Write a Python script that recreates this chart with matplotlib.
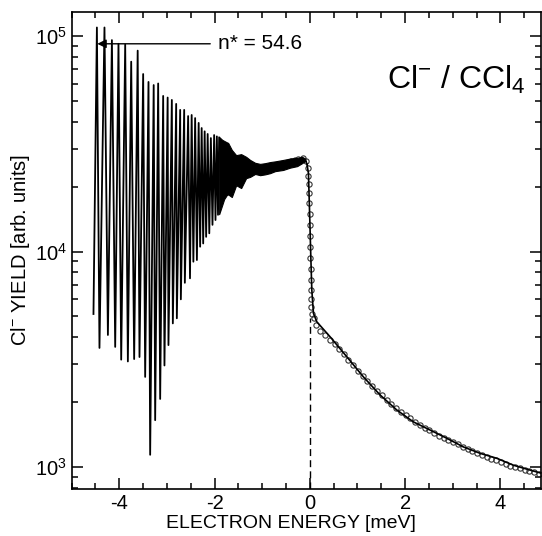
import matplotlib
matplotlib.use("Agg")
import matplotlib.pyplot as plt
from matplotlib.ticker import MultipleLocator, LogLocator, NullFormatter, FuncFormatter

plt.rcParams["font.family"] = ["Liberation Sans", "DejaVu Sans"]
plt.rcParams["mathtext.fontset"] = "custom"
plt.rcParams["mathtext.rm"] = "Liberation Sans"
plt.rcParams["mathtext.it"] = "Liberation Sans:italic"
plt.rcParams["mathtext.bf"] = "Liberation Sans:bold"

# ---------------------------------------------------------------------------
# data (energy in meV, yield in arb. units)
# ---------------------------------------------------------------------------
# resolved Rydberg spikes below threshold
peak_e = [-4.469, -4.310, -4.154, -4.016, -3.875, -3.749, -3.613, -3.498,
          -3.386, -3.277, -3.183, -3.078, -2.984, -2.896, -2.805, -2.721,
          -2.637, -2.554, -2.480, -2.407, -2.333, -2.270, -2.207, -2.144,
          -2.077, -2.008, -1.951, -1.903]
peak_yield = [1.095e5, 1.095e5, 9.57e4, 9.2e4, 9.13e4, 7.6e4, 8.55e4, 6.66e4,
              6.12e4, 5.92e4, 6.02e4, 5.27e4, 5.18e4, 5.05e4, 4.84e4, 4.54e4,
              4.54e4, 4.25e4, 4.30e4, 4.16e4, 3.95e4, 3.74e4, 3.61e4, 3.51e4,
              3.36e4, 3.47e4, 3.42e4, 3.38e4]
trough_e = [-4.541, -4.415, -4.238, -4.085, -3.959, -3.819, -3.687, -3.575,
            -3.456, -3.351, -3.246, -3.141, -3.051, -2.967, -2.875, -2.791,
            -2.707, -2.623, -2.515, -2.444, -2.370, -2.302, -2.238, -2.176,
            -2.110, -2.043, -1.980, -1.927]
trough_yield = [5130, 3570, 4100, 3610, 3150, 3090, 3170, 3240,
                2620, 1140, 1650, 2070, 2960, 3680, 4640, 4900,
                6000, 7160, 7510, 8970, 9130, 10530, 10900, 11700,
                12150, 13300, 14000, 14800]

# unresolved high-n band (upper / lower envelope)
band_e = [-1.903, -1.840, -1.798, -1.741, -1.714, -1.637, -1.546, -1.441,
          -1.337, -1.253, -1.148, -1.043, -0.938, -0.833, -0.728, -0.560,
          -0.413, -0.266, -0.162, -0.099, -0.057]
band_upper = [3.40e4, 3.30e4, 3.26e4, 3.21e4, 3.19e4, 2.96e4, 2.80e4, 2.83e4,
              2.75e4, 2.66e4, 2.58e4, 2.55e4, 2.57e4, 2.60e4, 2.62e4, 2.66e4,
              2.70e4, 2.72e4, 2.75e4, 2.70e4, 2.52e4]
band_lower = [1.49e4, 1.64e4, 1.75e4, 1.83e4, 1.84e4, 1.79e4, 2.03e4, 1.97e4,
              2.19e4, 2.22e4, 2.29e4, 2.26e4, 2.28e4, 2.31e4, 2.36e4, 2.39e4,
              2.45e4, 2.49e4, 2.57e4, 2.63e4, 2.52e4]

# threshold drop and tail above threshold
tail_e = [-0.057, -0.029, -0.008, 0.021, 0.042, 0.076, 0.147, 0.426, 0.776,
          1.125, 1.475, 1.825, 2.174, 2.524, 2.875, 3.223, 3.574, 3.924,
          4.272, 4.622, 4.868]
tail_yield = [2.52e4, 2.31e4, 1.61e4, 9.46e3, 6.63e3, 5.17e3, 4.72e3, 4.02e3,
              3.25e3, 2.62e3, 2.16e3, 1.84e3, 1.62e3, 1.485e3, 1.36e3, 1.24e3,
              1.158e3, 1.098e3, 1.02e3, 968, 935]

# open circles (calculated yield)
circ_e = [-0.40, -0.32, -0.24, -0.141, -0.078, -0.046, -0.029, -0.021, -0.015,
          -0.010, -0.006, -0.002, 0.002, 0.006, 0.010, 0.015, 0.019, 0.023,
          0.027, 0.034, 0.042, 0.08, 0.13, 0.22, 0.32, 0.42, 0.52, 0.62, 0.71,
          0.81, 0.91, 1.01, 1.11, 1.21, 1.31, 1.41, 1.51, 1.61, 1.71, 1.81,
          1.91, 2.01, 2.11, 2.21, 2.31, 2.41, 2.51, 2.61, 2.71, 2.81, 2.91,
          3.01, 3.11, 3.21, 3.31, 3.41, 3.51, 3.61, 3.71, 3.81, 3.91, 4.01,
          4.11, 4.21, 4.31, 4.41, 4.51, 4.61, 4.71, 4.81]
circ_yield = [2.62e4, 2.66e4, 2.70e4, 2.72e4, 2.64e4, 2.44e4, 2.24e4, 2.06e4,
              1.87e4, 1.68e4, 1.49e4, 1.33e4, 1.18e4, 1.05e4, 9.33e3, 8.29e3,
              7.37e3, 6.63e3, 6.02e3, 5.53e3, 5.13e3, 4900, 4550, 4300, 4100,
              3900, 3720, 3540, 3330, 3130, 2960, 2800, 2640, 2500, 2380, 2260,
              2150, 2050, 1960, 1880, 1810, 1740, 1680, 1620, 1570, 1520, 1480,
              1440, 1400, 1370, 1340, 1310, 1275, 1245, 1215, 1190, 1165, 1140,
              1115, 1095, 1075, 1055, 1035, 1015, 1000, 985, 970, 955, 945, 930]

threshold_e = 0.0
threshold_top = 4900
nstar_e = -4.46
nstar_yield = 9.2e4
nstar_label = "n* = 54.6"

# ---------------------------------------------------------------------------
fig = plt.figure(figsize=(5.42, 5.36), dpi=100)
ax = fig.add_axes([0.1321, 0.0877, 0.8661, 0.8899])

# zig-zag through the resolved spikes
zig_e = [trough_e[0]]
zig_y = [trough_yield[0]]
for i in range(len(peak_e)):
    zig_e.append(peak_e[i])
    zig_y.append(peak_yield[i])
    if i + 1 < len(trough_e):
        zig_e.append(trough_e[i + 1])
        zig_y.append(trough_yield[i + 1])
ax.plot(zig_e, zig_y, color="black", lw=1.3, zorder=3)

ax.fill_between(band_e, band_lower, band_upper, color="black", lw=0.8,
                edgecolor="black", zorder=3)
ax.plot(tail_e, tail_yield, color="black", lw=1.2, zorder=3)
ax.plot(circ_e, circ_yield, "o", mfc="none", mec="#333333", ms=3.8,
        mew=0.8, zorder=2)

ax.plot([threshold_e, threshold_e], [700, threshold_top], color="black",
        lw=1.0, ls=(0, (5, 3)), zorder=1)

ax.annotate("", xy=(nstar_e, nstar_yield), xytext=(-2.09, nstar_yield),
            arrowprops=dict(arrowstyle="-|>", color="black", lw=1.0,
                            mutation_scale=13, shrinkA=0, shrinkB=0))
ax.text(-1.93, nstar_yield, nstar_label, va="center", ha="left", fontsize=15)
ax.text(0.672, 0.858, r"Cl$^{-}$ / CCl$_4$", transform=ax.transAxes,
        fontsize=23, va="center", ha="left")

ax.set_yscale("log")
ax.set_xlim(-5.0, 4.853)
ax.set_ylim(791, 1.292e5)

ax.xaxis.set_major_locator(MultipleLocator(2))
ax.xaxis.set_minor_locator(MultipleLocator(0.5))
ax.xaxis.set_major_formatter(FuncFormatter(lambda v, p: f"{v:.0f}"))
ax.yaxis.set_major_locator(LogLocator(base=10))
ax.yaxis.set_minor_locator(LogLocator(base=10, subs=range(2, 10)))
ax.yaxis.set_minor_formatter(NullFormatter())

ax.tick_params(which="both", direction="in", top=True, right=True,
               width=1.1, labelsize=14.5)
ax.tick_params(which="major", length=8)
ax.tick_params(which="minor", length=4)
for s in ax.spines.values():
    s.set_linewidth(1.2)

ax.set_xlabel("ELECTRON ENERGY [meV]", fontsize=14, labelpad=1)
ax.xaxis.set_label_coords(0.467, -0.055)
ax.set_ylabel(r"Cl$^{-}$ YIELD [arb. units]", fontsize=14.5, labelpad=2)

fig.savefig("out.png", dpi=100)
